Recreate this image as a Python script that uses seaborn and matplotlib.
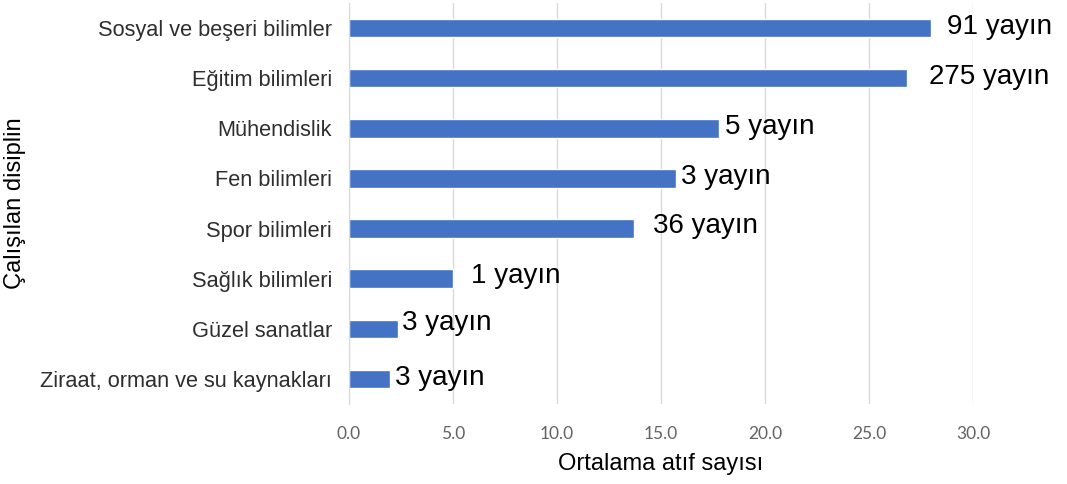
import matplotlib
matplotlib.use("Agg")
import matplotlib.pyplot as plt
import seaborn as sns
import pandas as pd

# Veriler
disiplinler = [
    "Sosyal ve beşeri bilimler",
    "Eğitim bilimleri",
    "Mühendislik",
    "Fen bilimleri",
    "Spor bilimleri",
    "Sağlık bilimleri",
    "Güzel sanatlar",
    "Ziraat, orman ve su kaynakları",
]
ortalama_atif = [28.0, 26.8, 17.8, 15.7, 13.7, 5.0, 2.35, 1.97]
yayin_sayisi = [91, 275, 5, 3, 36, 1, 3, 3]
x_ticks = [0, 5, 10, 15, 20, 25, 30]

df = pd.DataFrame({"disiplin": disiplinler, "atif": ortalama_atif, "yayin": yayin_sayisi})

# etiketlerin cubuga uzakligi (punto) - sadece stil
label_dx = [11, 16, 4, 4, 14, 13, 3, 4]
label_dy = [1, 1, 1, 1, 2, 2, 4, 1]

sns.set_style("white")
plt.rcParams["font.family"] = ["Liberation Sans", "DejaVu Sans"]

fig = plt.figure(figsize=(10.67, 4.84), dpi=100)
ax = fig.add_axes([0.327, 0.165, 0.585, 0.829])

sns.barplot(data=df, x="atif", y="disiplin", orient="h", color="#4472C4",
            width=0.37, saturation=1, ax=ax)

for i, (v, n) in enumerate(zip(df["atif"], df["yayin"])):
    ax.annotate(f"{n} yayın", xy=(v, i), xytext=(label_dx[i], label_dy[i]),
                textcoords="offset points", ha="left", va="center",
                fontsize=20, color="black")

ax.set_xlim(0, 30)
ax.set_xticks(x_ticks)
ax.set_xticklabels([f"{t:.1f}" for t in x_ticks], fontsize=12.5, color="#636363",
                   family=["Lato", "DejaVu Sans"])
ax.tick_params(axis="x", length=0, pad=16)
ax.tick_params(axis="y", length=0, pad=12, labelsize=15.7, labelcolor="#2e2e2e")

ax.grid(axis="x", color="#d9d9d9", linewidth=1)
ax.set_axisbelow(True)
for side in ["top", "right", "bottom"]:
    ax.spines[side].set_visible(False)
ax.spines["left"].set_color("#d9d9d9")

ax.set_xlabel("Ortalama atıf sayısı", fontsize=17, color="black", labelpad=8)
ax.set_ylabel("Çalışılan disiplin", fontsize=17, color="black", labelpad=10)

fig.savefig("out.png", dpi=100)
